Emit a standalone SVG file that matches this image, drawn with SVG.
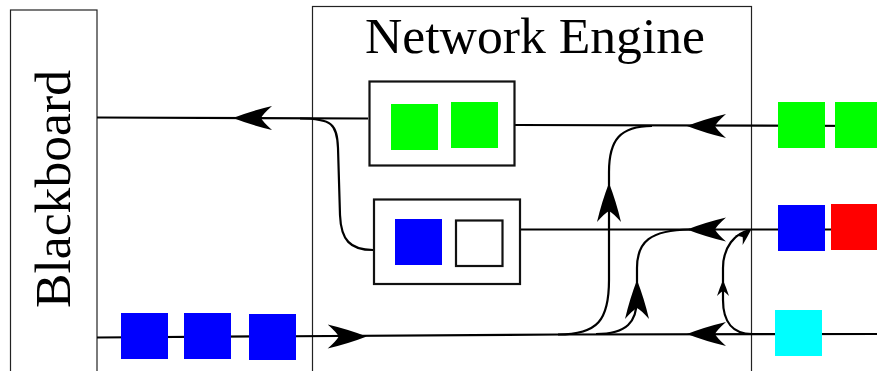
<svg xmlns="http://www.w3.org/2000/svg" width="877" height="371" viewBox="0 0 877 371">
<style>
.frame{fill:none;stroke:#222;stroke-width:1.2}
.box{fill:#fff;stroke:#111;stroke-width:2.2}
.ln{fill:none;stroke:#000;stroke-width:2.2}
.ah{fill:#000}
.lbl{font-family:"Liberation Serif","DejaVu Serif",serif;font-size:50px;fill:#000}
.g{fill:#00ff00}.b{fill:#0000ff}.r{fill:#ff0000}.c{fill:#00ffff}
</style>
<defs>
<path id="big" d="M0,0 Q-18,-7 -39,-12 Q-30,-4 -28,0 Q-30,4 -39,12 Q-18,7 0,0 Z"/>
<path id="small" d="M0,0 Q-7,-3 -16,-6 Q-12,-2 -11,0 Q-12,2 -16,6 Q-7,3 0,0 Z"/>
</defs>
<g id="blackboard">
<rect class="frame" x="10.5" y="10" width="86.5" height="380"/>
<text class="lbl" transform="translate(70,308) rotate(-90)" textLength="238" lengthAdjust="spacingAndGlyphs">Blackboard</text>
</g>
<g id="network-engine">
<rect class="frame" x="312.5" y="6.5" width="439" height="380"/>
<text class="lbl" x="365" y="53" textLength="340" lengthAdjust="spacingAndGlyphs">Network Engine</text>
</g>
<g id="connectors">
<path class="ln" d="M97,117.5 L368,118.5"/>
<path class="ln" d="M300,118.5 C332,118.5 337,124 338,148 L340,215 C341,240 350,250 373,250"/>
<path class="ln" d="M515,125 L877,126"/>
<path class="ln" d="M520,229.5 L877,229.5"/>
<path class="ln" d="M97,337.5 L560,334.5 L877,334"/>
<path class="ln" d="M558,334.5 C598,334.5 609,320 609,280 L609,172 C609,140 620,126 652,126"/>
<path class="ln" d="M596,334 C627,334 637,322 637,298 L637,268 C637,242 650,230 690,229.5"/>
<path class="ln" d="M752,334 C733,334 723,322 723,300 L723,268 C723,247 735,233 750,230"/>
<use href="#big" class="ah" transform="translate(233,118) rotate(180)"/>
<use href="#big" class="ah" transform="translate(366.7,336.5)"/>
<use href="#big" class="ah" transform="translate(687,126) rotate(180)"/>
<use href="#big" class="ah" transform="translate(687,229.5) rotate(180)"/>
<use href="#big" class="ah" transform="translate(687,334) rotate(180)"/>
<use href="#big" class="ah" transform="translate(609,183) rotate(-90)"/>
<use href="#big" class="ah" transform="translate(637,280) rotate(-90)"/>
<use href="#small" class="ah" transform="translate(723,280) rotate(-90)"/>
<use href="#small" class="ah" transform="translate(751,230) rotate(-40)"/>
</g>
<g id="queue-green">
<rect class="box" x="369.5" y="81.5" width="145" height="84"/>
<rect class="g" x="391" y="104" width="47" height="46"/>
<rect class="g" x="451" y="102" width="47" height="46"/>
</g>
<g id="queue-blue">
<rect class="box" x="374" y="199.5" width="146" height="84.5"/>
<rect class="b" x="395" y="219" width="47" height="46"/>
<rect fill="#fff" stroke="#111" stroke-width="2.2" x="456" y="220.5" width="46.5" height="45.5"/>
</g>
<g id="incoming-green">
<rect class="g" x="778" y="102" width="47" height="46"/>
<rect class="g" x="835" y="102" width="47" height="46"/>
</g>
<g id="incoming-blue-red">
<rect class="b" x="778" y="205" width="47" height="46"/>
<rect class="r" x="831" y="204" width="47" height="46"/>
</g>
<g id="incoming-cyan">
<rect class="c" x="775" y="310" width="47" height="46"/>
</g>
<g id="outgoing-blue">
<rect class="b" x="121" y="313" width="47" height="46"/>
<rect class="b" x="184" y="313" width="47" height="46"/>
<rect class="b" x="249" y="314" width="47" height="46"/>
</g>
</svg>
